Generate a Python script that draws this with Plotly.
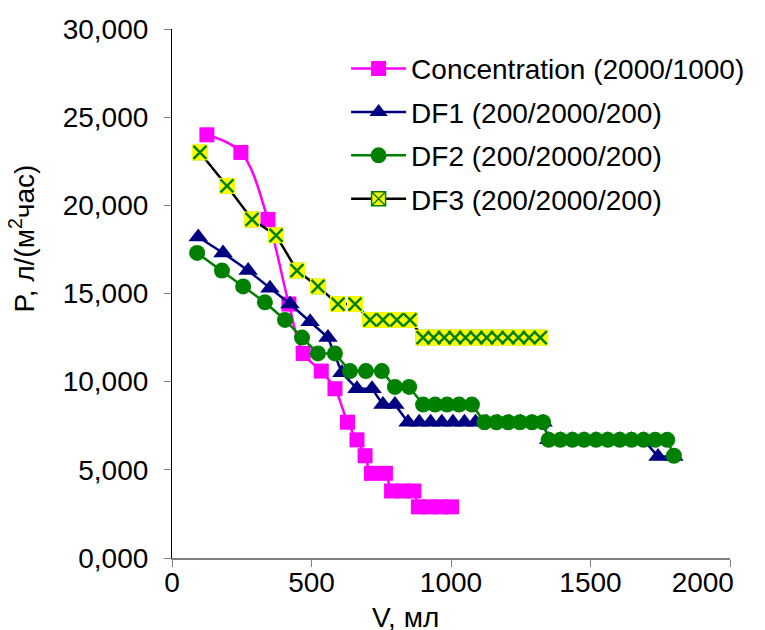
import plotly.graph_objects as go

# ---- data ----
conc_x = [125, 247, 344, 419, 470, 535, 584, 629, 663, 692, 715, 765, 787, 828, 867, 883, 923, 962, 1002]
conc_y = [24.0, 23.0, 19.2, 14.4, 11.6, 10.6, 9.6, 7.7, 6.7, 5.8, 4.8, 4.8, 3.8, 3.8, 3.8, 2.9, 2.9, 2.9, 2.9]

df1_x = [94, 183, 273, 351, 423, 495, 559, 609, 663, 717, 756, 799,
         846, 886, 927, 967, 1007, 1048, 1088, 1128, 1169, 1209, 1249, 1290, 1330,
         1350, 1392, 1435, 1477, 1520, 1562, 1605, 1647, 1690, 1742, 1799]
df1_y = [18.2, 17.3, 16.3, 15.3, 14.4, 13.4, 12.5, 10.5, 9.6, 9.6, 8.7, 8.7,
         7.7, 7.7, 7.7, 7.7, 7.7, 7.7, 7.7, 7.7, 7.7, 7.7, 7.7, 7.7, 7.7,
         6.7, 6.7, 6.7, 6.7, 6.7, 6.7, 6.7, 6.7, 6.7, 5.75, 5.75]

df2_x = [90, 179, 255, 333, 405, 466, 523, 584, 638, 695, 752, 799, 850,
         900, 943, 986, 1029, 1075, 1120, 1163, 1205, 1247, 1290, 1330,
         1350, 1392, 1435, 1477, 1520, 1562, 1605, 1647, 1690, 1732, 1775, 1799]
df2_y = [17.3, 16.3, 15.4, 14.5, 13.5, 12.5, 11.6, 11.6, 10.6, 10.6, 10.6, 9.7, 9.7,
         8.7, 8.7, 8.7, 8.7, 8.7, 7.7, 7.7, 7.7, 7.7, 7.7, 7.7,
         6.7, 6.7, 6.7, 6.7, 6.7, 6.7, 6.7, 6.7, 6.7, 6.7, 6.7, 5.8]

df3_x = [100, 197, 287, 373, 448, 523, 595, 656, 710, 756, 806, 853,
         900, 938, 976, 1014, 1052, 1090, 1128, 1166, 1204, 1242, 1280, 1320]
df3_y = [23.0, 21.1, 19.2, 18.3, 16.3, 15.4, 14.4, 14.4, 13.5, 13.5, 13.5, 13.5,
         12.5, 12.5, 12.5, 12.5, 12.5, 12.5, 12.5, 12.5, 12.5, 12.5, 12.5, 12.5]

names = ["Concentration (2000/1000)", "DF1 (200/2000/200)", "DF2 (200/2000/200)", "DF3 (200/2000/200)"]
x_ticks = [0, 500, 1000, 1500, 2000]
x_ticktext = ["0", "500", "1000", "1500", "2000" + "\u00a0" * 7]
y_ticks = [0, 5, 10, 15, 20, 25, 30]

FONT = "Arial, Liberation Sans, sans-serif"
FS = 28

fig = go.Figure()
fig.add_trace(go.Scatter(x=conc_x, y=conc_y, name=names[0], mode="lines+markers", legendgroup="a",
                         line=dict(color="#FF00FF", width=2.5, shape="spline", smoothing=1.0),
                         marker=dict(symbol="square", size=15, color="#FF00FF")))
fig.add_trace(go.Scatter(x=df1_x, y=df1_y, name=names[1], mode="lines+markers", legendgroup="b",
                         line=dict(color="#000080", width=2.5),
                         marker=dict(symbol="triangle-up", size=17, color="#000080")))
fig.add_trace(go.Scatter(x=df2_x, y=df2_y, name=names[2], mode="lines+markers", legendgroup="c",
                         line=dict(color="#008000", width=2.5),
                         marker=dict(symbol="circle", size=16, color="#008000")))
fig.add_trace(go.Scatter(x=df3_x, y=df3_y, name=names[3], mode="lines+markers", legendgroup="d",
                         line=dict(color="#000000", width=2.5),
                         marker=dict(symbol="square-x", size=14, color="#FFFF00",
                                     line=dict(color="#008000", width=1.5))))
# yellow square bodies drawn over the outlined legend-style markers
fig.add_trace(go.Scatter(x=df3_x, y=df3_y, mode="markers", legendgroup="d", showlegend=False,
                         hoverinfo="skip",
                         marker=dict(symbol="square", size=16, color="#FFFF00", line=dict(width=0))))
fig.add_trace(go.Scatter(x=df3_x, y=df3_y, mode="markers", legendgroup="d", showlegend=False,
                         hoverinfo="skip",
                         marker=dict(symbol="x-thin", size=13, color="#008000",
                                     line=dict(color="#008000", width=2.5))))

fig.update_layout(
    width=765, height=630,
    margin=dict(l=164, r=43, t=21, b=80, autoexpand=False),
    paper_bgcolor="white", plot_bgcolor="white",
    separators=", ",
    font=dict(family=FONT, size=FS, color="black"),
    showlegend=True,
    legend=dict(x=0.312, y=0.972, xanchor="left", yanchor="top", itemwidth=55,
                font=dict(family=FONT, size=FS, color="black"),
                bgcolor="rgba(0,0,0,0)", tracegroupgap=4),
    xaxis=dict(range=[0, 2000], tickvals=x_ticks, ticktext=x_ticktext, ticks="outside", ticklen=7,
               tickcolor="#808080", showline=True, linecolor="#808080", linewidth=1.5,
               showgrid=False, zeroline=False, tickfont=dict(size=FS), automargin=False,
               ticklabelstandoff=-8, ticklabeloverflow="allow"),
    yaxis=dict(range=[0, 30], tickvals=y_ticks, tickformat=".3f", ticks="outside", ticklen=7,
               tickcolor="#808080", showline=True, linecolor="#000000", linewidth=1.2,
               showgrid=False, zeroline=False, tickfont=dict(size=FS), automargin=False,
               ticklabelstandoff=10),
    annotations=[
        dict(text="V, мл", xref="paper", yref="paper", x=0.418, y=-0.08,
             xanchor="center", yanchor="top", showarrow=False, font=dict(size=FS)),
        dict(text="P, л/(м<sup>2</sup>час)", xref="paper", yref="paper", x=-0.268, y=0.605,
             xanchor="center", yanchor="middle", textangle=-90, showarrow=False, font=dict(size=FS)),
    ],
)

fig.write_html("out.html")
